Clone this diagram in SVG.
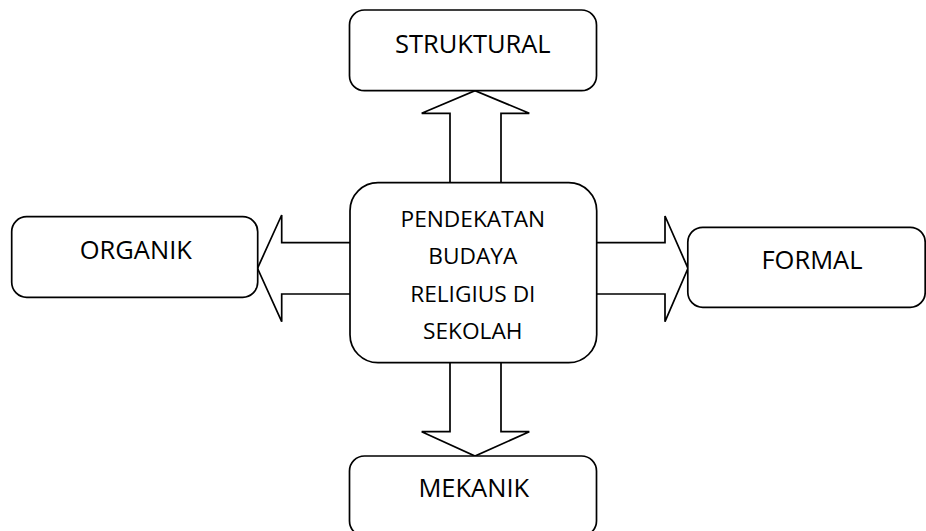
<svg xmlns="http://www.w3.org/2000/svg" width="926" height="531" viewBox="0 0 926 531">
<style>
.box{fill:#fff;stroke:#000;stroke-width:1.7}
.arr{fill:#fff;stroke:#000;stroke-width:1.7;stroke-linejoin:miter}
.lbl{font-family:"Open Sans","Liberation Sans",sans-serif;font-size:25.5px;fill:#000;text-anchor:middle}
.ctr{font-family:"Open Sans","Liberation Sans",sans-serif;font-size:22.7px;fill:#000;text-anchor:middle}
</style>
<rect width="926" height="531" fill="#fff"/>
<g id="connectors">
<path class="arr" d="M450,182.7 V113.3 H421.7 L475,90.7 L529.3,113.3 H501 V182.7"/>
<path class="arr" d="M450,362.7 V431.7 H421.7 L475,456 L529.3,431.7 H501 V362.7"/>
<path class="arr" d="M350,242.7 H281.7 V215 L257.5,268.3 L281.7,321.7 V294 H350"/>
<path class="arr" d="M596.7,242.7 H665 V216 L688,268.3 L665,321.7 V294 H596.7"/>
</g>
<g id="center">
<rect class="box" x="350" y="182.7" width="246.7" height="180" rx="28" ry="28"/>
<text class="ctr" x="472.8" y="226.7">PENDEKATAN</text>
<text class="ctr" x="472.8" y="264">BUDAYA</text>
<text class="ctr" x="472.8" y="302.3">RELIGIUS DI</text>
<text class="ctr" x="472.8" y="339">SEKOLAH</text>
</g>
<g id="struktural">
<rect class="box" x="349.5" y="10" width="247" height="80.7" rx="15" ry="15"/>
<text class="lbl" x="472.8" y="53">STRUKTURAL</text>
</g>
<g id="organik">
<rect class="box" x="11.7" y="216.7" width="246" height="80.6" rx="15" ry="15"/>
<text class="lbl" x="135.8" y="259">ORGANIK</text>
</g>
<g id="formal">
<rect class="box" x="687.8" y="227.3" width="237.4" height="80" rx="15" ry="15"/>
<text class="lbl" x="812" y="269.3">FORMAL</text>
</g>
<g id="mekanik">
<rect class="box" x="349.5" y="456" width="247" height="80" rx="15" ry="15"/>
<text class="lbl" x="473.8" y="496.7">MEKANIK</text>
</g>
</svg>
